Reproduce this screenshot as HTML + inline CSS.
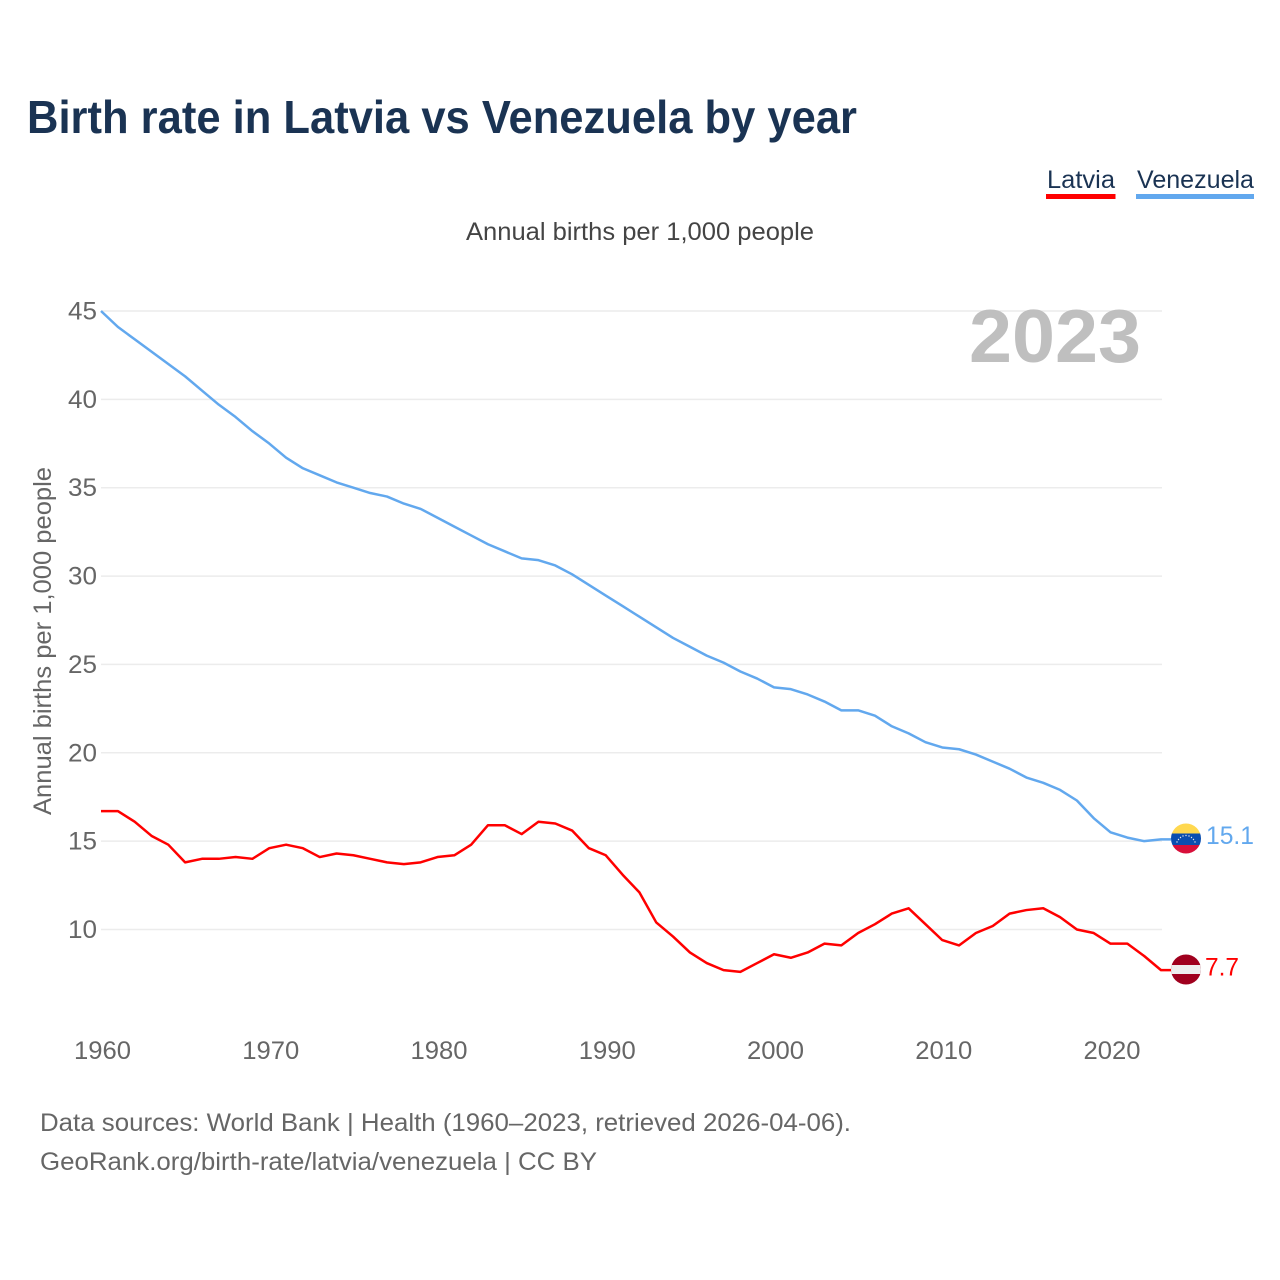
<!DOCTYPE html>
<html lang="en">
<head>
<meta charset="utf-8">
<title>Birth rate in Latvia vs Venezuela by year</title>
<style>
html,body{margin:0;padding:0;background:#fff;}
svg{display:block;font-family:"Liberation Sans",sans-serif;}
</style>
</head>
<body>
<svg id="chart" xmlns="http://www.w3.org/2000/svg" width="1280" height="1280" viewBox="0 0 1280 1280">
  <defs>
    <clipPath id="flag-clip-ve"><circle cx="1186" cy="838.5" r="15"/></clipPath>
    <clipPath id="flag-clip-lv"><circle cx="1186" cy="969.5" r="15"/></clipPath>
  </defs>
  <rect width="1280" height="1280" fill="#fff"/>
  <text x="27" y="133" font-size="46" font-weight="700" fill="#1a3353" textLength="830" lengthAdjust="spacingAndGlyphs">Birth rate in Latvia vs Venezuela by year</text>

  <g>
    <text x="1047" y="188" font-size="25" fill="#1a3353" textLength="68" lengthAdjust="spacingAndGlyphs">Latvia</text>
    <rect x="1046" y="194" width="69.5" height="5" fill="#ff0000"/>
  </g>
  <g>
    <text x="1137" y="188" font-size="25" fill="#1a3353" textLength="117" lengthAdjust="spacingAndGlyphs">Venezuela</text>
    <rect x="1136" y="194" width="118" height="5" fill="#62a8ee"/>
  </g>

  <text x="466" y="240" font-size="25" fill="#444" textLength="348" lengthAdjust="spacingAndGlyphs">Annual births per 1,000 people</text>
  <text transform="translate(51,815) rotate(-90)" font-size="25" fill="#666" textLength="348" lengthAdjust="spacingAndGlyphs">Annual births per 1,000 people</text>

  <g id="grid"></g>
  <g id="y-ticks"></g>
  <g id="x-ticks"></g>

  <text x="969" y="362" font-size="75" font-weight="700" fill="#bfbfbf" textLength="172" lengthAdjust="spacingAndGlyphs">2023</text>

  <g id="series"></g>

  <g clip-path="url(#flag-clip-ve)">
    <rect x="1170" y="823" width="32" height="11" fill="#ffd84f"/>
    <rect x="1170" y="833.5" width="32" height="11.5" fill="#0a4eb0"/>
    <rect x="1170" y="845" width="32" height="10" fill="#d80f3a"/>
    <g fill="#e8e8e8">
      <circle cx="1177" cy="842" r=".7"/><circle cx="1178.5" cy="839.5" r=".7"/><circle cx="1180.5" cy="837.5" r=".7"/><circle cx="1183" cy="836" r=".7"/><circle cx="1186" cy="835.5" r=".7"/><circle cx="1189" cy="836" r=".7"/><circle cx="1191.5" cy="837.5" r=".7"/><circle cx="1193.5" cy="839.5" r=".7"/><circle cx="1195" cy="842" r=".7"/>
    </g>
  </g>
  <text x="1206" y="844" font-size="25" fill="#62a8ee" textLength="48" lengthAdjust="spacingAndGlyphs">15.1</text>

  <g clip-path="url(#flag-clip-lv)">
    <rect x="1170" y="954" width="32" height="32" fill="#a0001e"/>
    <rect x="1170" y="965" width="32" height="9" fill="#eeeeee"/>
  </g>
  <text x="1205" y="975.5" font-size="25" fill="#ff0000" textLength="34" lengthAdjust="spacingAndGlyphs">7.7</text>

  <text x="40" y="1131" font-size="25" fill="#666" textLength="811" lengthAdjust="spacingAndGlyphs">Data sources: World Bank | Health (1960–2023, retrieved 2026-04-06).</text>
  <text x="40" y="1170" font-size="25" fill="#666" textLength="557" lengthAdjust="spacingAndGlyphs">GeoRank.org/birth-rate/latvia/venezuela | CC BY</text>
</svg>
<script>
const startYear = 1960;
const xTickLabels = [1960, 1970, 1980, 1990, 2000, 2010, 2020];
const yTickLabels = [10, 15, 20, 25, 30, 35, 40, 45];
const latviaValues = [16.7, 16.7, 16.1, 15.3, 14.8, 13.8, 14.0, 14.0, 14.1, 14.0, 14.6, 14.8, 14.6, 14.1, 14.3, 14.2, 14.0, 13.8, 13.7, 13.8, 14.1, 14.2, 14.8, 15.9, 15.9, 15.4, 16.1, 16.0, 15.6, 14.6, 14.2, 13.1, 12.1, 10.4, 9.6, 8.7, 8.1, 7.7, 7.6, 8.1, 8.6, 8.4, 8.7, 9.2, 9.1, 9.8, 10.3, 10.9, 11.2, 10.3, 9.4, 9.1, 9.8, 10.2, 10.9, 11.1, 11.2, 10.7, 10.0, 9.8, 9.2, 9.2, 8.5, 7.7];
const venezuelaValues = [45.0, 44.1, 43.4, 42.7, 42.0, 41.3, 40.5, 39.7, 39.0, 38.2, 37.5, 36.7, 36.1, 35.7, 35.3, 35.0, 34.7, 34.5, 34.1, 33.8, 33.3, 32.8, 32.3, 31.8, 31.4, 31.0, 30.9, 30.6, 30.1, 29.5, 28.9, 28.3, 27.7, 27.1, 26.5, 26.0, 25.5, 25.1, 24.6, 24.2, 23.7, 23.6, 23.3, 22.9, 22.4, 22.4, 22.1, 21.5, 21.1, 20.6, 20.3, 20.2, 19.9, 19.5, 19.1, 18.6, 18.3, 17.9, 17.3, 16.3, 15.5, 15.2, 15.0, 15.1];

const NS = 'http://www.w3.org/2000/svg';
function xScale(year) { return 101 + (year - 1960) * (1060 / 63); }
function yScale(v) { return 311 + (45 - v) * (618.5 / 35); }
function make(tag, attrs, parent, text) {
  const el = document.createElementNS(NS, tag);
  for (const k in attrs) el.setAttribute(k, attrs[k]);
  if (text !== undefined) el.textContent = text;
  parent.appendChild(el);
  return el;
}

const grid = document.getElementById('grid');
const yTicks = document.getElementById('y-ticks');
const xTicks = document.getElementById('x-ticks');
const seriesGroup = document.getElementById('series');

yTickLabels.forEach(function (v) {
  const line = make('line', { x1: 101, x2: 1162, y1: yScale(v), y2: yScale(v), stroke: '#ececec', 'stroke-width': 1.5 }, grid);
  
  
  const label = make('text', { x: 97, y: yScale(v) + 8.5, 'font-size': 25, fill: '#666', 'text-anchor': 'end', textLength: 29, lengthAdjust: 'spacingAndGlyphs' }, yTicks, String(v));
  
  
});

xTickLabels.forEach(function (yr) {
  const label = make('text', { x: xScale(yr) + 1.5, y: 1059, 'font-size': 25, fill: '#666', 'text-anchor': 'middle', textLength: 57, lengthAdjust: 'spacingAndGlyphs' }, xTicks, String(yr));
  
  
});

function drawSeries(values, color, key) {
  const pts = values.map(function (v, i) { return xScale(startYear + i).toFixed(2) + ',' + yScale(v).toFixed(2); });
  const last = values.length - 1;
  pts.push((xScale(startYear + last) + 10).toFixed(2) + ',' + yScale(values[last]).toFixed(2));
  const line = make('polyline', { points: pts.join(' '), fill: 'none', stroke: color, 'stroke-width': 2.5, 'stroke-linejoin': 'round' }, seriesGroup);
  
  
}
drawSeries(venezuelaValues, '#62a8ee', 'venezuela');
drawSeries(latviaValues, '#ff0000', 'latvia');
</script>
</body>
</html>
